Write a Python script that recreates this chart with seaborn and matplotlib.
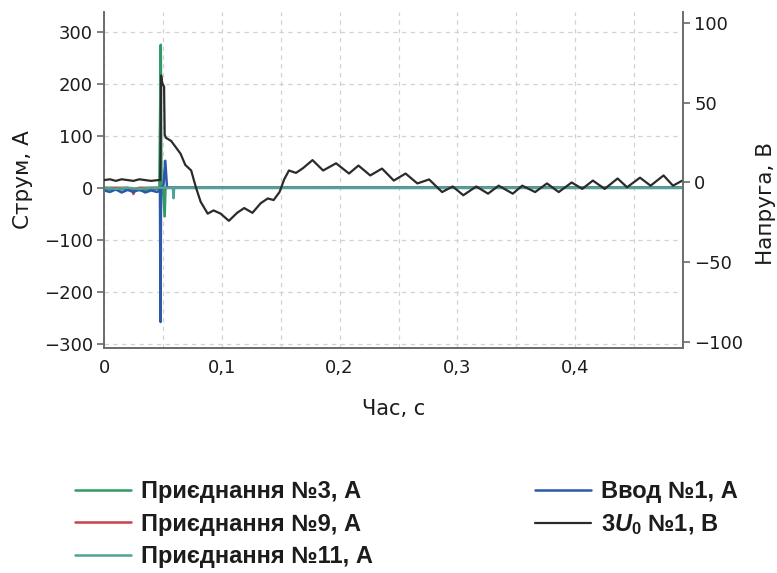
import numpy as np
import pandas as pd
import seaborn as sns
import matplotlib
matplotlib.use("Agg")
import matplotlib.pyplot as plt
from matplotlib.ticker import FixedLocator, FuncFormatter

# --- measured waveforms -------------------------------------------------
# zero-sequence voltage 3U0, V
t_u = [0.0, 0.005, 0.010, 0.015, 0.020, 0.025, 0.030, 0.035, 0.040, 0.046,
       0.0478, 0.0485, 0.0495, 0.0510, 0.0515, 0.0525, 0.057, 0.061, 0.065,
       0.069, 0.074, 0.078, 0.082, 0.088, 0.093, 0.099, 0.106, 0.113, 0.119,
       0.126, 0.133, 0.139, 0.144, 0.149, 0.153, 0.157, 0.163, 0.169, 0.177,
       0.186, 0.197, 0.208, 0.216, 0.226, 0.236, 0.246, 0.256, 0.266, 0.276,
       0.287, 0.296, 0.305, 0.316, 0.326, 0.335, 0.347, 0.355, 0.366, 0.376,
       0.386, 0.397, 0.406, 0.415, 0.425, 0.436, 0.444, 0.455, 0.464, 0.475,
       0.483, 0.491]
u0 = [1.5, 2.0, 1.0, 2.0, 1.5, 1.0, 2.0, 1.5, 1.0, 1.5,
      1.5, 67.0, 62.0, 60.0, 30.0, 28.0, 26.0, 22.0, 18.0,
      11.0, 7.5, -3.0, -12.0, -19.5, -17.5, -19.5, -24.0, -19.0, -16.0,
      -19.0, -13.0, -10.0, -11.0, -6.0, 2.0, 7.5, 6.0, 9.0, 14.0,
      7.5, 12.0, 5.6, 10.6, 4.4, 8.7, 1.2, 5.6, -0.6, 1.9,
      -6.0, -2.5, -8.0, -2.5, -7.0, -2.0, -7.0, -2.0, -6.0, -0.6,
      -6.0, 0.0, -4.0, 1.2, -4.0, 2.5, -3.0, 3.0, -2.0, 4.4,
      -2.0, 1.2]

# feeder currents, A
t_in1 = [0.0, 0.005, 0.010, 0.015, 0.020, 0.025, 0.030, 0.035, 0.040, 0.045,
         0.0475, 0.0480, 0.0484, 0.0505, 0.0520, 0.0535, 0.055, 0.49]
i_in1 = [-5, -8, -3, -9, -4, -8, -3, -9, -5, -8,
         -5, -258, 0, 5, 52, 0, 0, 0]

t_f3 = [0.0, 0.010, 0.020, 0.030, 0.040, 0.047, 0.0482, 0.0488, 0.0500,
        0.0515, 0.0522, 0.0530, 0.49]
i_f3 = [-2, -4, -2, -5, -3, -2, 275, 0, 0, -55, 0, 0, 0]

t_f9 = [0.0, 0.020, 0.0235, 0.0250, 0.0265, 0.030, 0.046, 0.0475, 0.0490,
        0.060, 0.49]
i_f9 = [0, 0, -2, -12, -2, 0, 0, -6, 0, 0, 0]

t_f11 = [0.0, 0.010, 0.020, 0.030, 0.040, 0.047, 0.050, 0.0585, 0.0590,
         0.0595, 0.49]
i_f11 = [0, -2, 0, -2, 0, 0, 0, 0, -20, 0, 0]

x_ticks = [0.0, 0.1, 0.2, 0.3, 0.4]
y_left_ticks = [-300, -200, -100, 0, 100, 200, 300]
y_right_ticks = [-100, -50, 0, 50, 100]

labels = ["Приєднання №3, А", "Приєднання №9, А", "Приєднання №11, А",
          "Ввод №1, А", "3$U_0$ №1, В"]
colors = ["#2f9a63", "#c8414b", "#4fa397", "#2b58a8", "#2b2b2b"]

# --- figure --------------------------------------------------------------
sns.set_theme(style="white")
plt.rcParams["font.family"] = ["DejaVu Sans"]
plt.rcParams["mathtext.fontset"] = "custom"
plt.rcParams["mathtext.it"] = "Liberation Sans:italic:bold"
plt.rcParams["mathtext.rm"] = "Liberation Sans:bold"

fig = plt.figure(figsize=(7.77, 5.73), dpi=100)
ax = fig.add_axes([104 / 777, 1 - 348 / 573, (683 - 104) / 777, (348 - 12) / 573])
ax2 = ax.twinx()

spine_col = "#6b6b6b"
grid_col = "#d2d2d2"
text_col = "#1c1c1c"

series = [(t_f3, i_f3, labels[0], colors[0]),
          (t_f9, i_f9, labels[1], colors[1]),
          (t_in1, i_in1, labels[3], colors[3]),
          (t_f11, i_f11, labels[2], colors[2])]
for t, v, lab, c in series:
    sns.lineplot(x=t, y=v, ax=ax, color=c, lw=1.8, label=lab,
                 estimator=None, sort=False, legend=False)

sns.lineplot(x=t_u, y=u0, ax=ax2, color=colors[4], lw=1.6, label=labels[4],
             estimator=None, sort=False, legend=False)

ax.set_xlim(0, 0.4915)
ax.set_ylim(-308, 338)
ax2.set_ylim(-103.6, 106.7)

ax.xaxis.set_major_locator(FixedLocator(x_ticks))
ax.xaxis.set_minor_locator(FixedLocator([0.05, 0.15, 0.25, 0.35, 0.45]))
ax.xaxis.set_major_formatter(FuncFormatter(
    lambda v, p: "0" if v == 0 else f"{v:.1f}".replace(".", ",")))
ax.yaxis.set_major_locator(FixedLocator(y_left_ticks))
ax.yaxis.set_major_formatter(FuncFormatter(lambda v, p: f"{int(v)}".replace("-", "\u2212")))
ax2.yaxis.set_major_locator(FixedLocator(y_right_ticks))
ax2.yaxis.set_major_formatter(FuncFormatter(lambda v, p: f"{int(v)}".replace("-", "\u2212")))

ax.grid(True, which="both", axis="x", color=grid_col, ls=(0, (3.5, 3.5)), lw=0.9)
ax.grid(True, which="major", axis="y", color=grid_col, ls=(0, (3.5, 3.5)), lw=0.9)
ax.set_axisbelow(True)

for a in (ax, ax2):
    for s in a.spines.values():
        s.set_color(spine_col)
        s.set_linewidth(1.4)
    a.spines["top"].set_visible(False)
ax.spines["right"].set_visible(False)
ax2.spines["left"].set_visible(False)
ax2.spines["bottom"].set_visible(False)

tick_kw = dict(direction="out", length=5, width=1.2, color=spine_col,
               labelsize=13, labelcolor=text_col, pad=3)
ax.tick_params(axis="both", which="major", **tick_kw)
ax.tick_params(axis="x", which="minor", length=0)
ax2.tick_params(axis="y", which="major", **tick_kw)

ax.set_xlabel("Час, с", fontsize=15, color=text_col, labelpad=16)
ax.set_ylabel("Струм, А", fontsize=15.5, color=text_col)
ax.yaxis.set_label_coords(-0.122, 0.5)
ax2.set_ylabel("Напруга, В", fontsize=15.5, color=text_col)
ax2.yaxis.set_label_coords(1.126, 0.43)

# legend below the axes, two columns
handles = {l.get_label(): l for l in ax.get_lines() + ax2.get_lines()}
order = [labels[0], labels[1], labels[2], labels[3], labels[4]]
leg = fig.legend([handles[k] for k in order], order, ncol=2,
                 loc="upper left", bbox_to_anchor=(54 / 777, 1 - 459 / 573),
                 frameon=False, handlelength=2.35, handletextpad=0.42,
                 columnspacing=6.9, labelspacing=0.4,
                 prop={"family": ["Liberation Sans", "DejaVu Sans"],
                       "weight": "bold", "size": 17})
for t in leg.get_texts():
    t.set_color(text_col)

fig.savefig("out.png", dpi=100)
